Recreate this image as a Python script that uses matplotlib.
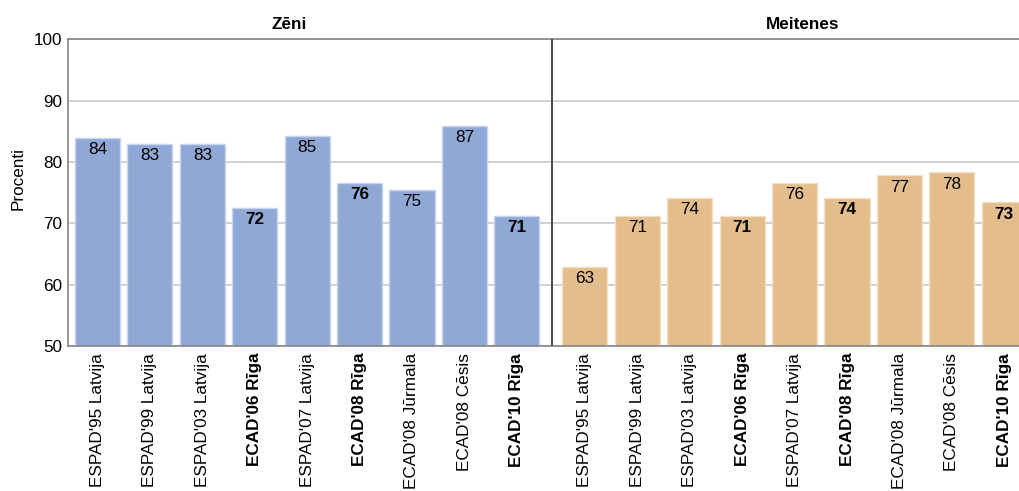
"""
Zēni / Meitenes - aptauju rezultāti (procenti)
Output: out.png
"""

import matplotlib
matplotlib.use("Agg")
import matplotlib.pyplot as plt
from matplotlib import font_manager
import matplotlib.transforms as mtransforms
import numpy as np

# Dati
categories = [
    "ESPAD'95 Latvija", "ESPAD'99 Latvija", "ESPAD'03 Latvija", "ECAD'06 Rīga",
    "ESPAD'07 Latvija", "ECAD'08 Rīga", "ECAD'08 Jūrmala", "ECAD'08 Cēsis",
    "ECAD'10 Rīga",
]
bold_categories = ["ECAD'06 Rīga", "ECAD'08 Rīga", "ECAD'10 Rīga"]

zeni_values = [83.9, 82.9, 82.9, 72.5, 84.3, 76.6, 75.4, 85.9, 71.25]
zeni_labels = [84, 83, 83, 72, 85, 76, 75, 87, 71]

meitenes_values = [62.9, 71.25, 74.2, 71.25, 76.6, 74.2, 77.8, 78.3, 73.4]
meitenes_labels = [63, 71, 74, 71, 76, 74, 77, 78, 73]

group_titles = ["Zēni", "Meitenes"]

# Fonts (Narrow, ja ir; citādi parastais)
installed = {f.name for f in font_manager.fontManager.ttflist}
if "Liberation Sans Narrow" in installed:
    FONT, FS = "Liberation Sans Narrow", 14
else:
    FONT, FS = "Liberation Sans", 12.3
plt.rcParams["font.family"] = [FONT, "DejaVu Sans"]

COLORS = {
    "zeni": "#8fa8d6",
    "zeni_edge": "#c9d5ee",
    "meit": "#e3bd8c",
    "meit_edge": "#f2dfc6",
    "grid": "#c8c8c8",
    "spine": "#858585",
    "divider": "#3c3c3c",
}

fig = plt.figure(figsize=(10.2, 4.91), dpi=100)
ax = fig.add_axes([68 / 1020, 145 / 491, 952 / 1020, 306.7 / 491])

zeni_x = np.arange(len(categories))
meit_x = np.arange(len(categories)) + 9.3
width = 0.86

bars_z = ax.bar(zeni_x, zeni_values, width, color=COLORS["zeni"],
                edgecolor=COLORS["zeni_edge"], linewidth=1.0, zorder=2)
bars_m = ax.bar(meit_x, meitenes_values, width, color=COLORS["meit"],
                edgecolor=COLORS["meit_edge"], linewidth=1.0, zorder=2)

# Vērtību uzraksti
for bars, labels in [(bars_z, zeni_labels), (bars_m, meitenes_labels)]:
    for bar, lab, cat in zip(bars, labels, categories):
        weight = "bold" if cat in bold_categories else "normal"
        ax.annotate(str(lab), (bar.get_x() + bar.get_width() / 2, bar.get_height()),
                    xytext=(0, -3), textcoords="offset points", ha="center",
                    va="top", fontsize=FS, fontweight=weight, color="black",
                    zorder=3)

# Asis
ax.set_ylim(50, 100)
ax.set_yticks(np.arange(50, 101, 10))
ax.set_xlim(-0.563, 17.6)
ax.yaxis.grid(True, color=COLORS["grid"], linewidth=1.2)
ax.set_axisbelow(True)
ax.tick_params(axis="y", length=0, pad=4, labelsize=FS)
ax.tick_params(axis="x", length=0, pad=5)

ax.set_xticks(np.concatenate([zeni_x, meit_x]))
ax.set_xticklabels(categories + categories, rotation=90, va="top", ha="center",
                   fontsize=FS)
for t in ax.get_xticklabels():
    if t.get_text() in bold_categories:
        t.set_fontweight("bold")

ax.spines["right"].set_visible(False)
for s in ["top", "left", "bottom"]:
    ax.spines[s].set_color(COLORS["spine"])
    ax.spines[s].set_linewidth(1.2)

ax.axvline(8.67, color=COLORS["divider"], linewidth=1.3, zorder=4)

ax.set_ylabel("Procenti", fontsize=FS)
ax.yaxis.set_label_coords(-0.045, 0.546)

# Grupu virsraksti
trans = mtransforms.blended_transform_factory(ax.transData, ax.transAxes)
for xpos, title in zip([3.65, 13.46], group_titles):
    ax.text(xpos, 1.048, title, transform=trans, ha="center", va="center",
            fontsize=FS, fontweight="bold")

fig.savefig("out.png", dpi=100, facecolor="white")
plt.close(fig)
